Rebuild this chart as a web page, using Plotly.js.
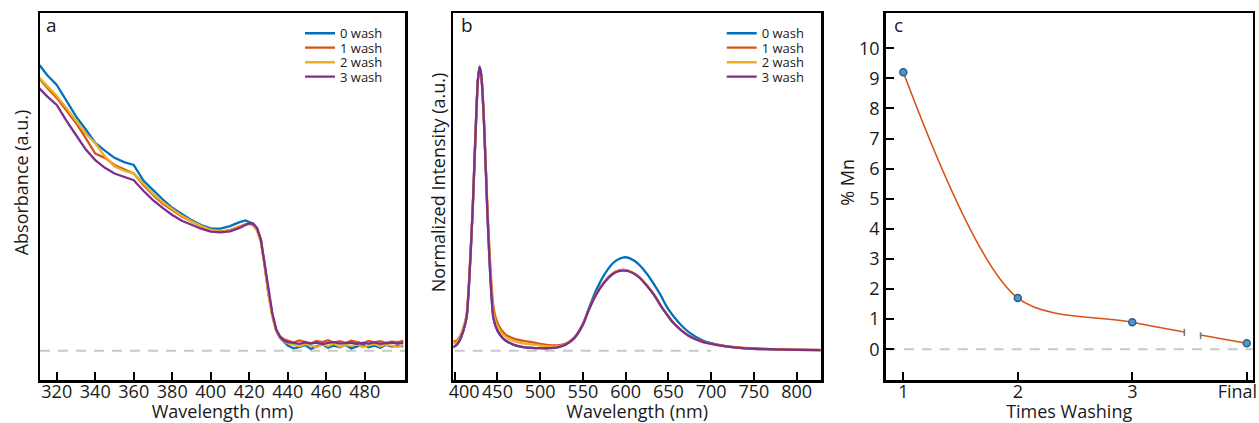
<!DOCTYPE html>
<html><head><meta charset="utf-8">
<script src="https://cdn.plot.ly/plotly-3.0.1.min.js"></script>
<style>html,body{margin:0;padding:0;background:#fff}#chart{width:1259px;height:423px}</style>
</head><body><div id="chart"></div>
<script>
// ---- series info ----
const seriesNames = ['0 wash', '1 wash', '2 wash', '3 wash'];
const seriesColors = ['#0072BD', '#D95319', '#EDB120', '#7E2F8E'];

// ---- panel a: absorbance ----
const wlA = [311,315,320,325,330,335,340,345,350,355,360,365,370,375,380,385,390,395,400,405,410,415,418,
  420,422,424,426,428,430,432,434,436,438,440,
  443,446,449,452,455,458,461,464,467,470,473,476,479,482,485,488,491,494,497,500];
const absWash0 = [1.00,0.965,0.93,0.875,0.82,0.775,0.727,0.70,0.675,0.66,0.65,0.595,0.562,0.53,0.50,0.478,0.457,0.44,0.428,0.427,0.436,0.45,0.456,
  0.45,0.445,0.428,0.39,0.30,0.20,0.125,0.07,0.045,0.03,0.018,
  0.008,0.012,0.02,0.006,0.015,0.022,0.01,0.018,0.012,0.02,0.008,0.016,0.022,0.012,0.018,0.01,0.02,0.014,0.018,0.015];
const absWash1 = [0.953,0.92,0.885,0.84,0.797,0.745,0.69,0.675,0.65,0.635,0.62,0.58,0.545,0.515,0.492,0.47,0.452,0.435,0.422,0.418,0.422,0.435,0.442,
  0.445,0.44,0.425,0.385,0.30,0.20,0.125,0.072,0.05,0.04,0.035,
  0.028,0.036,0.03,0.026,0.034,0.03,0.037,0.028,0.033,0.027,0.035,0.03,0.026,0.034,0.029,0.033,0.027,0.032,0.03,0.034];
const absWash2 = [0.955,0.928,0.892,0.85,0.805,0.76,0.726,0.68,0.645,0.63,0.62,0.585,0.55,0.52,0.495,0.472,0.453,0.436,0.423,0.417,0.42,0.433,0.44,
  0.443,0.438,0.42,0.38,0.295,0.195,0.12,0.068,0.045,0.033,0.026,
  0.02,0.015,0.024,0.018,0.012,0.022,0.016,0.025,0.014,0.02,0.017,0.023,0.012,0.019,0.024,0.015,0.021,0.018,0.013,0.02];
const absWash3 = [0.918,0.89,0.86,0.805,0.755,0.705,0.667,0.64,0.62,0.608,0.597,0.56,0.527,0.50,0.475,0.455,0.44,0.427,0.417,0.414,0.418,0.43,0.44,
  0.446,0.444,0.43,0.39,0.305,0.205,0.13,0.075,0.048,0.035,0.03,
  0.027,0.024,0.029,0.025,0.028,0.023,0.027,0.03,0.025,0.026,0.028,0.024,0.027,0.025,0.029,0.024,0.026,0.028,0.025,0.027];
const tickA = [320, 340, 360, 380, 400, 420, 440, 460, 480];

// ---- panel b: normalized PL intensity ----
const wlB = [398,402,406,410,414,417,421,424,427,429,431,434,438,440,442,445,448,452,456,460,470,480,490,500,510,520,530,540,550,557,565,575,585,592,598,605,615,625,635,641,648,655,665,675,689,700,715,730,750,775,800,828];
const plWash0 = [0.012,0.02,0.038,0.07,0.12,0.25,0.50,0.74,0.95,1.0,0.97,0.82,0.50,0.36,0.24,0.12,0.085,0.06,0.045,0.035,0.02,0.013,0.01,0.009,0.009,0.012,0.022,0.045,0.095,0.15,0.21,0.268,0.308,0.323,0.329,0.325,0.305,0.27,0.225,0.195,0.155,0.125,0.09,0.063,0.038,0.027,0.017,0.011,0.007,0.004,0.003,0.002];
const plWash1 = [0.032,0.035,0.05,0.08,0.13,0.26,0.50,0.74,0.95,0.995,0.97,0.82,0.52,0.39,0.28,0.16,0.115,0.085,0.068,0.056,0.042,0.035,0.03,0.024,0.02,0.019,0.025,0.047,0.094,0.146,0.197,0.243,0.273,0.283,0.285,0.28,0.262,0.23,0.19,0.16,0.13,0.102,0.073,0.051,0.033,0.025,0.017,0.012,0.008,0.005,0.004,0.003];
const plWash2 = [0.025,0.03,0.045,0.078,0.128,0.258,0.50,0.74,0.95,0.997,0.97,0.82,0.51,0.375,0.26,0.14,0.10,0.075,0.058,0.048,0.033,0.026,0.022,0.018,0.015,0.015,0.023,0.046,0.093,0.145,0.196,0.242,0.272,0.282,0.284,0.279,0.261,0.229,0.189,0.159,0.129,0.101,0.072,0.05,0.032,0.024,0.016,0.011,0.007,0.005,0.003,0.002];
const plWash3 = [0.012,0.02,0.038,0.07,0.12,0.25,0.50,0.74,0.95,1.0,0.97,0.82,0.50,0.36,0.24,0.12,0.085,0.06,0.045,0.035,0.02,0.013,0.01,0.009,0.009,0.012,0.022,0.045,0.092,0.145,0.195,0.24,0.27,0.28,0.282,0.278,0.26,0.228,0.188,0.158,0.128,0.10,0.072,0.05,0.032,0.024,0.016,0.011,0.007,0.005,0.003,0.002];
const tickB = [400, 450, 500, 550, 600, 650, 700, 750, 800];
const tickBText = ['\u00a0\u00a0\u00a0\u00a0400', '450', '500', '550', '600', '650', '700', '750', '800'];

// ---- panel c: Mn content ----
const washIndex = [1, 2, 3, 4];
const washLabels = ['1', '2', '3', 'Final\u00a0\u00a0\u00a0\u00a0'];
const mnPercent = [9.2, 1.7, 0.9, 0.2];
const tickC = [0, 1, 2, 3, 4, 5, 6, 7, 8, 9, 10];

const FONT = '"Open Sans", "Noto Sans", sans-serif';
const TXT = '#1a1a1a';
const NB = '\u200b\u00a0\u00a0\u00a0\u00a0\u00a0\u00a0';

const absSeries = [absWash0, absWash1, absWash2, absWash3];
const plSeries = [plWash0, plWash1, plWash2, plWash3];

const traces = [];
absSeries.forEach((ys, i) => {
  traces.push({x: wlA, y: ys, xaxis: 'x', yaxis: 'y', type: 'scatter', mode: 'lines',
    name: seriesNames[i], legend: i === 0 ? 'legend' : 'legend' + (i + 1),
    line: {color: seriesColors[i], width: 2.3}});
});
plSeries.forEach((ys, i) => {
  traces.push({x: wlB, y: ys, xaxis: 'x2', yaxis: 'y2', type: 'scatter', mode: 'lines',
    name: seriesNames[i], legend: 'legend' + (i + 5),
    line: {color: seriesColors[i], width: 2.3, shape: 'spline', smoothing: 0.6}});
});
traces.push({x: washIndex, y: mnPercent, xaxis: 'x3', yaxis: 'y3', type: 'scatter', mode: 'lines+markers',
  name: '% Mn', showlegend: false,
  line: {color: '#D95319', width: 1.6, shape: 'spline', smoothing: 0.85},
  marker: {size: 7, color: '#4f97c9', line: {color: '#2b5f8e', width: 1.5}}});

function frameAxis(extra) {
  return Object.assign({
    showline: true, mirror: true, linecolor: '#000', linewidth: 2.5,
    ticks: 'inside', ticklen: 8, tickwidth: 2, tickcolor: '#000',
    showgrid: false, zeroline: false, fixedrange: true, tickangle: 0,
    tickfont: {family: FONT, size: 18, color: TXT}
  }, extra);
}
const W = 1259, H = 423;
const px = v => v / W;
const py = v => 1 - v / H;
const xTitle = t => ({text: t, font: {size: 18, color: TXT}});
const yTitle = (t, s) => ({text: NB + t, font: {size: 18, color: TXT}, standoff: s});

const layout = {
  width: W, height: H,
  margin: {l: 0, r: 0, t: 0, b: 0},
  paper_bgcolor: '#fff', plot_bgcolor: '#fff',
  font: {family: FONT, color: TXT},
  xaxis: frameAxis({domain: [px(40), px(405)], range: [311.3, 500.9], tickvals: tickA,
    ticklabelstandoff: -6, title: xTitle('Wavelength (nm)')}),
  yaxis: frameAxis({domain: [py(380), py(13)], range: [-0.1026, 1.182], ticks: '', showticklabels: false,
    title: yTitle('Absorbance (a.u.)', 4)}),
  xaxis2: frameAxis({anchor: 'y2', domain: [px(453.3), px(821)], range: [398.3, 828.5], tickvals: tickB, ticktext: tickBText,
    ticklabelstandoff: -6, title: xTitle('Wavelength (nm)')}),
  yaxis2: frameAxis({anchor: 'x2', domain: [py(380), py(13)], range: [-0.103, 1.189], ticks: '', showticklabels: false,
    title: yTitle('Normalized Intensity (a.u.)', 1)}),
  xaxis3: frameAxis({anchor: 'y3', domain: [px(885.7), px(1252.7)], range: [0.846, 4.052], tickvals: washIndex, ticktext: washLabels,
    ticklabelstandoff: -6, ticklabeloverflow: 'allow', title: xTitle('Times Washing')}),
  yaxis3: frameAxis({anchor: 'x3', domain: [py(380), py(13)], range: [-1.02, 11.17], tickvals: tickC,
    title: yTitle('% Mn', 0)}),
  shapes: [
    {type: 'line', xref: 'x domain', yref: 'y', x0: 0, x1: 1, y0: 0, y1: 0, layer: 'below',
      line: {color: '#c8c8c8', width: 2, dash: '10px,8px'}},
    {type: 'line', xref: 'x2', yref: 'y2', x0: 400, x1: 700, y0: 0, y1: 0, layer: 'below',
      line: {color: '#c8c8c8', width: 2, dash: '10px,8px'}},
    {type: 'line', xref: 'x3 domain', yref: 'y3', x0: 0, x1: 1, y0: 0, y1: 0, layer: 'below',
      line: {color: '#c8c8c8', width: 2, dash: '10px,8px'}},
    // axis break on the curve
    {type: 'rect', xref: 'x3', yref: 'y3', x0: 3.462, x1: 3.59, y0: 0.22, y1: 0.85, layer: 'above',
      fillcolor: '#fff', line: {width: 0}},
    {type: 'line', xref: 'x3', yref: 'y3', x0: 3.455, x1: 3.455, y0: 0.44, y1: 0.68, line: {color: '#777', width: 1.5}},
    {type: 'line', xref: 'x3', yref: 'y3', x0: 3.597, x1: 3.597, y0: 0.33, y1: 0.57, line: {color: '#777', width: 1.5}}
  ],
  annotations: [
    {text: 'a', xref: 'x domain', yref: 'y domain', x: 0.032, y: 0.967, xanchor: 'center', yanchor: 'middle', showarrow: false, font: {size: 19, color: TXT}},
    {text: 'b', xref: 'x2 domain', yref: 'y2 domain', x: 0.036, y: 0.967, xanchor: 'center', yanchor: 'middle', showarrow: false, font: {size: 19, color: TXT}},
    {text: 'c', xref: 'x3 domain', yref: 'y3 domain', x: 0.034, y: 0.967, xanchor: 'center', yanchor: 'middle', showarrow: false, font: {size: 19, color: TXT}}
  ]
};
const legRows = [33.3, 47.7, 62.3, 76.7];
const legLeft = [300, 721.7];
for (let p = 0; p < 2; p++) {
  for (let i = 0; i < 4; i++) {
    const idx = p * 4 + i;
    const key = idx === 0 ? 'legend' : 'legend' + (idx + 1);
    layout[key] = {x: px(legLeft[p]), y: py(legRows[i]), xanchor: 'left', yanchor: 'middle',
      bgcolor: 'rgba(0,0,0,0)', borderwidth: 0, itemwidth: 30,
      font: {family: FONT, size: 13, color: TXT}};
  }
}
Plotly.newPlot('chart', traces, layout, {displayModeBar: false, staticPlot: true});
</script></body></html>
